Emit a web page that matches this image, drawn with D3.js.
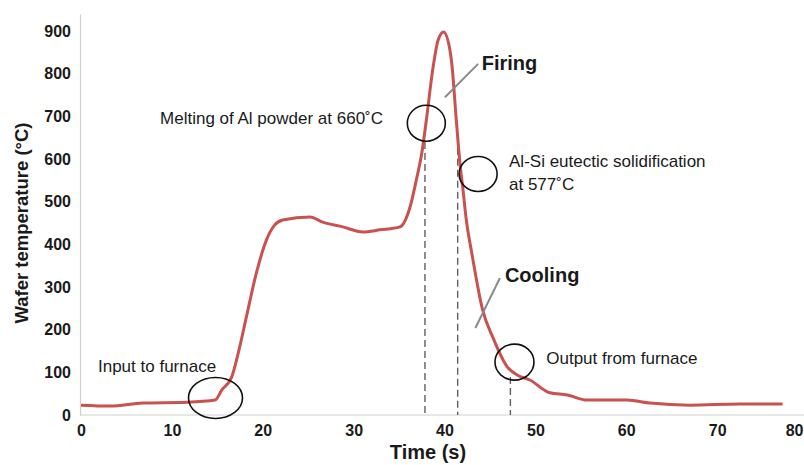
<!DOCTYPE html>
<html>
<head>
<meta charset="utf-8">
<script src="https://cdn.jsdelivr.net/npm/d3@7"></script>
<style>
  body { margin: 0; background: #fff; }
  svg { display: block; font-family: "Liberation Sans", Arial, sans-serif; }
</style>
</head>
<body>
<svg id="chart"></svg>
<script>
// time (s) and wafer temperature (°C)
const times = [0, 3.2, 6.8, 11.6, 14.75, 15.5, 16.6, 17.3, 18.2, 19.3, 20.4, 21.3, 22.2, 25.2, 26.6, 28.8, 31.0, 32.9, 35.1, 36.2, 36.9, 37.5, 38.0, 38.7, 39.3, 39.9, 40.6, 40.8, 41.3, 41.7, 42.0, 42.4, 43.0, 44.2, 45.3, 46.9, 48.0, 49.4, 51.6, 53.5, 55.7, 60.1, 62.6, 67.0, 72.5, 77.2];
const temps = [23, 21, 28, 30, 35, 59, 90, 145, 230, 333, 410, 445, 457, 464, 452, 441, 429, 434, 441, 487, 551, 614, 691, 809, 879, 898, 855, 824, 691, 590, 535, 457, 380, 246, 183, 113, 94, 82, 52, 47, 35, 35, 28, 23, 26, 26];

const xTicks = [0, 10, 20, 30, 40, 50, 60, 70, 80];
const yTicks = [0, 100, 200, 300, 400, 500, 600, 700, 800, 900];

// dashed drop lines: time, temperature where they start
const dropTimes = [37.85, 41.45, 47.25];
const dropTemps = [640, 652, 89];

// ellipses marking events (centre in data units)
const ringTimes = [14.8, 38.0, 43.7, 47.7];
const ringTemps = [40, 684, 565, 124];

// annotation labels
const noteText = ["Input to furnace", "Melting of Al powder at 660˚C", "Al-Si eutectic solidification", "at 577˚C", "Output from furnace"];
const noteTimes = [1.87, 8.7, 47.1, 47.1, 51.2];
const noteTemps = [101, 683, 581, 527, 120];

const phaseText = ["Firing", "Cooling"];
const phaseTimes = [44.1, 46.65];
const phaseTemps = [808, 312];
// leader lines from phase labels to curve
const leaderFrom = [[40.05, 745], [43.4, 204]];
const leaderTo = [[43.7, 823], [46.1, 321]];

const width = 804, height = 465;
const svg = d3.select("#chart").attr("width", width).attr("height", height);

const x = d3.scaleLinear().domain([0, 80]).range([81, 808]);
const y = d3.scaleLinear().domain([0, 940]).range([415, 14]);

// axes
let xAxis = svg.append("g")
    .attr("transform", `translate(0, ${y(0)})`)
    .call(d3.axisBottom(x).tickValues(xTicks).tickSize(0).tickPadding(10));
xAxis.select(".domain").attr("stroke", "#d0d0d0").attr("stroke-width", 1.2)
    .attr("d", `M${x(0) - 1},0H${width}`);
xAxis.selectAll("text")
    .attr("font-size", 16).attr("font-weight", "bold").attr("fill", "#1a1a1a")
    .attr("font-family", "Liberation Sans, Arial, sans-serif");
// the last label sits at the page edge, keep it inside
xAxis.selectAll(".tick").filter(d => d === 80).select("text")
    .attr("text-anchor", "end")
    .attr("x", width - x(80) - 1);

let yAxis = svg.append("g")
    .attr("transform", `translate(${x(0) - 1}, 0)`)
    .call(d3.axisLeft(y).tickValues(yTicks).tickSize(0).tickPadding(9));
yAxis.select(".domain").attr("stroke", "#d0d0d0").attr("stroke-width", 1.2);
yAxis.selectAll("text")
    .attr("font-size", 16).attr("font-weight", "bold").attr("fill", "#1a1a1a")
    .attr("font-family", "Liberation Sans, Arial, sans-serif");

svg.append("text")
    .attr("x", 428).attr("y", 459)
    .attr("text-anchor", "middle")
    .attr("font-size", 20).attr("font-weight", "bold").attr("fill", "#1a1a1a")
    .text("Time (s)");

svg.append("text")
    .attr("transform", `translate(28, ${y(450)}) rotate(-90)`)
    .attr("text-anchor", "middle")
    .attr("font-size", 18.5).attr("font-weight", "bold").attr("fill", "#1a1a1a")
    .text("Wafer temperature (°C)");

// dashed drop lines
svg.selectAll(".drop")
    .data(dropTimes)
    .enter()
    .append("line")
    .attr("class", "drop")
    .attr("x1", d => x(d)).attr("x2", d => x(d))
    .attr("y1", (d, i) => y(dropTemps[i])).attr("y2", y(0))
    .attr("stroke", "#606060").attr("stroke-width", 1.4)
    .attr("stroke-dasharray", "7,4");

// temperature profile
const profile = times.map((t, i) => ({ t: t, v: temps[i] }));
const line = d3.line()
    .x(d => x(d.t))
    .y(d => y(d.v))
    .curve(d3.curveMonotoneX);

svg.append("path")
    .datum(profile)
    .attr("d", line)
    .attr("fill", "none")
    .attr("stroke", "#c9514f")
    .attr("stroke-width", 3)
    .attr("stroke-linejoin", "round");

// event rings
const ringRx = [27, 19, 19, 19.5];
const ringRy = [20.5, 18, 17.5, 18];
svg.selectAll(".ring")
    .data(ringTimes)
    .enter()
    .append("ellipse")
    .attr("class", "ring")
    .attr("cx", d => x(d))
    .attr("cy", (d, i) => y(ringTemps[i]))
    .attr("rx", (d, i) => ringRx[i])
    .attr("ry", (d, i) => ringRy[i])
    .attr("fill", "none")
    .attr("stroke", "#111")
    .attr("stroke-width", 1.6);

// leader lines
svg.selectAll(".leader")
    .data(leaderFrom)
    .enter()
    .append("line")
    .attr("class", "leader")
    .attr("x1", d => x(d[0])).attr("y1", d => y(d[1]))
    .attr("x2", (d, i) => x(leaderTo[i][0])).attr("y2", (d, i) => y(leaderTo[i][1]))
    .attr("stroke", "#8a8a8a").attr("stroke-width", 2);

svg.selectAll(".note")
    .data(noteText)
    .enter()
    .append("text")
    .attr("class", "note")
    .attr("x", (d, i) => x(noteTimes[i]))
    .attr("y", (d, i) => y(noteTemps[i]))
    .attr("font-size", 17).attr("fill", "#1a1a1a")
    .text(d => d);

svg.selectAll(".phase")
    .data(phaseText)
    .enter()
    .append("text")
    .attr("class", "phase")
    .attr("x", (d, i) => x(phaseTimes[i]))
    .attr("y", (d, i) => y(phaseTemps[i]))
    .attr("font-size", 20).attr("font-weight", "bold").attr("fill", "#1a1a1a")
    .text(d => d);
</script>
</body>
</html>
